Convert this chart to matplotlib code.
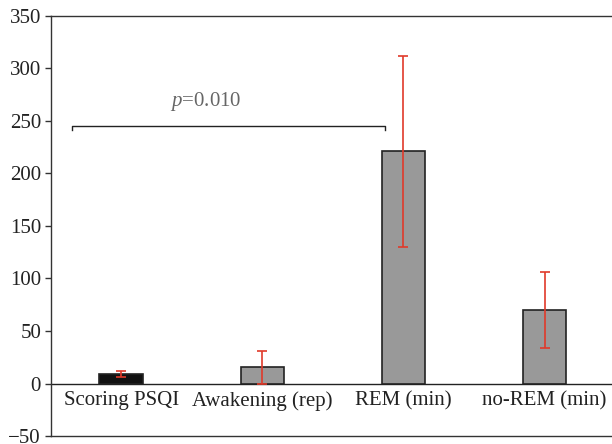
import matplotlib
matplotlib.use("Agg")
import matplotlib.pyplot as plt

categories = ["Scoring PSQI", "Awakening (rep)", "REM (min)", "no-REM (min)"]
means = [9, 15.5, 221, 70]
errors = [2.5, 15.5, 91, 36]
bar_colors = ["#111111", "#999999", "#999999", "#999999"]
yticks = [-50, 0, 50, 100, 150, 200, 250, 300, 350]
p_text_value = "0.010"
bracket_y = 245

plt.rcParams['font.family'] = ['Liberation Serif', 'DejaVu Serif']
plt.rcParams['mathtext.fontset'] = 'custom'
plt.rcParams['mathtext.it'] = 'Liberation Serif:italic'
plt.rcParams['mathtext.rm'] = 'Liberation Serif'

fig = plt.figure(figsize=(6.12, 4.44), dpi=100)
ax = fig.add_axes([0.083, 0.018, 0.922, 0.946])

x = list(range(len(categories)))
ax.bar(x, means, width=0.31, color=bar_colors, edgecolor="#222222", linewidth=1.2, zorder=3)
ax.errorbar(x, means, yerr=errors, fmt='none', ecolor="#e03a2a", elinewidth=1.2,
            capsize=3.5, capthick=1.2, zorder=4)

ax.axhline(0, color="#222222", linewidth=1.0, zorder=2)

ax.set_xlim(-0.5, 3.5)
ax.set_ylim(-50, 350)
ax.set_yticks(yticks)
ax.set_yticklabels([("\u2212" + str(abs(v))) if v < 0 else str(v) for v in yticks], fontsize=15, color="#222222")
ax.set_xticks([])
ax.tick_params(axis='y', direction='out', length=4, width=1, color="#333333", pad=3)

ax.spines["right"].set_visible(False)
for s in ["left", "top", "bottom"]:
    ax.spines[s].set_color("#333333")
    ax.spines[s].set_linewidth(1.0)

for i, c in enumerate(categories):
    ax.text(i, -7, c, ha='center', va='top', fontsize=15, color="#222222")

# significance bracket
x0, x1 = -0.35, 1.87
ax.plot([x0, x0, x1, x1], [bracket_y - 4, bracket_y, bracket_y, bracket_y - 4],
        color="#222222", linewidth=1.0, zorder=5)
ax.text(0.6, bracket_y + 13, r"$\it{p}$" + "=" + p_text_value,
        ha='center', va='bottom', fontsize=15, color="#666666")

fig.savefig("out.png", dpi=100)
